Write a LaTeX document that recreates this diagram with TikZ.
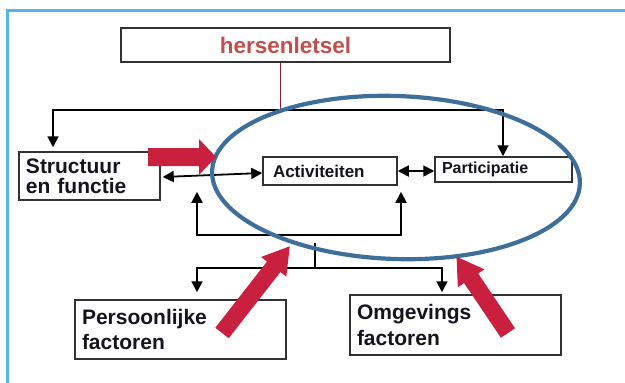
\documentclass[tikz,border=0pt]{standalone}
\usepackage{fontspec}
\setmainfont{Liberation Sans}
\usetikzlibrary{arrows.meta,calc}
\definecolor{frameblue}{RGB}{86,182,234}
\definecolor{ellblue}{RGB}{62,110,154}
\definecolor{arrred}{RGB}{200,32,62}
\definecolor{hred}{RGB}{192,80,77}
\definecolor{lred}{RGB}{140,30,50}
\definecolor{boxgray}{RGB}{50,50,50}
\definecolor{txt}{RGB}{20,20,30}
\newcommand\redblockarrow[7]{\fill[arrred,shift={(#1,#2)},rotate=#3] (0,-#5) -- (#4-#7,-#5) -- (#4-#7,-#6) -- (#4,0) -- (#4-#7,#6) -- (#4-#7,#5) -- (0,#5) -- cycle;}
\tikzset{
  box/.style={draw=boxgray, line width=1.5pt, fill=white, text=txt, align=left, inner ysep=0pt},
  conn/.style={draw=black, line width=1.8pt},
  dblarrow/.style={{Triangle[length=11pt,width=11pt]}-{Triangle[length=11pt,width=11pt]}},
}
\begin{document}
\begin{tikzpicture}[x=1pt,y=-1pt]
\useasboundingbox (0,0) rectangle (625,383);
% frame
\draw[frameblue, line width=3pt] (7,395) -- (7,10.7) -- (635,10.7);
% boxes
\node[box, minimum width=329pt, minimum height=34pt, text width=315pt, inner xsep=7pt, align=center, text=hred, font=\bfseries\fontsize{22.5}{24}\selectfont] (hers) at (285.5,45) {hersenletsel};
\node[box, minimum width=141pt, minimum height=48pt, text width=127pt, inner xsep=7pt, font=\bfseries\fontsize{21}{20}\selectfont] (str) at (89.5,176) {Structuur\\en functie};
\node[box, minimum width=134pt, minimum height=28pt, text width=114pt, inner xsep=10pt, font=\bfseries\fontsize{17}{20}\selectfont] (act) at (330,171) {Activiteiten};
\node[box, minimum width=137pt, minimum height=25pt, text width=123pt, inner xsep=7pt, font=\bfseries\fontsize{16}{20}\selectfont] (part) at (503.5,169.5) {Participatie};
\node[box, minimum width=211pt, minimum height=59pt, text width=197pt, inner xsep=7pt, font=\bfseries\fontsize{21}{25}\selectfont] (pers) at (180.5,329.5) {Persoonlijke\\factoren};
\node[box, minimum width=211pt, minimum height=60pt, text width=197pt, inner xsep=7pt, font=\bfseries\fontsize{21}{26}\selectfont] (omg) at (455.5,325) {Omgevings\\factoren};
% top connectors
\coordinate (tl) at (53,110);
\coordinate (tr) at (503,110);
\coordinate (hb) at (280,110);
\draw[lred, line width=1pt] (hers.south -| hb) -- (hb);
\draw[conn, dblarrow] ($(str.north -| tl)+(0,-4)$) -- (tl) -- (tr) -- (part.north -| tr);
% middle connectors
\draw[conn, dblarrow] ($(str.east)+(2,1)$) -- ($(act.west)+(0,2)$);
\draw[conn, dblarrow] (act.east) -- (act.east -| part.west);
% loop under
\coordinate (la) at (197,235);
\coordinate (lb) at (401,235);
\draw[conn, dblarrow] ($(act.south -| la)+(0,6)$) -- (la) -- (lb) -- ($(act.south -| lb)+(0,6)$);
% tree
\coordinate (ta) at (315,243);
\coordinate (tb) at (315,268);
\coordinate (tc) at (197,268);
\coordinate (td) at (442,268);
\draw[conn] (ta) -- (tb);
\draw[conn, dblarrow] ($(pers.north -| tc)+(0,-7)$) -- (tc) -- (td) -- ($(omg.north -| td)+(0,-2)$);
% ellipse
\draw[ellblue, line width=4.2pt, rotate around={-2:(396,177.5)}] (396,177.5) ellipse [x radius=184pt, y radius=81.5pt];
% red block arrows
\redblockarrow{148}{157}{0}{68}{9}{18}{17}
\redblockarrow{222}{333}{52}{110}{8.5}{16}{26}
\redblockarrow{508}{333}{124}{92}{8.5}{16}{26}
\end{tikzpicture}
\end{document}
